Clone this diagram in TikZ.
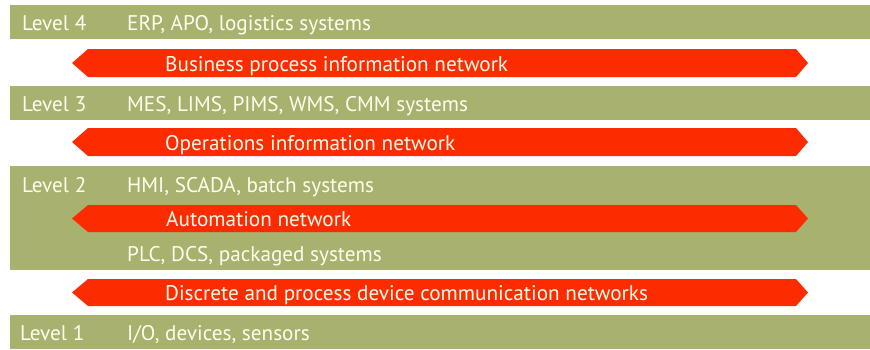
\documentclass[tikz,border=0pt]{standalone}
\usepackage{fontspec}
\setmainfont{PT Sans}
\definecolor{band}{RGB}{168,177,110}
\definecolor{net}{RGB}{252,44,0}
\definecolor{txt}{RGB}{255,253,238}
\tikzset{
  bandbox/.style={fill=band, draw=none},
  netarrow/.style={fill=net, draw=none},
  lbl/.style={text=txt, anchor=base west, inner sep=0pt, font=\fontsize{21.2}{23}\selectfont},
}
\begin{document}
\begin{tikzpicture}[x=1pt,y=-1pt]
\useasboundingbox (0,0) rectangle (870,349);
\fill[bandbox] (10,5) rectangle (870,39);
\fill[bandbox] (10,86) rectangle (870,120);
\fill[bandbox] (10,166) rectangle (870,270);
\fill[bandbox] (10,315) rectangle (870,349);
\fill[netarrow] (72,63) -- (88,49) -- (796,49) -- (808,63) -- (796,77) -- (88,77) -- cycle;
\fill[netarrow] (72,142) -- (88,128) -- (796,128) -- (808,142) -- (796,156) -- (88,156) -- cycle;
\fill[netarrow] (72,218.5) -- (88,205) -- (796,205) -- (808,218.5) -- (796,232) -- (88,232) -- cycle;
\fill[netarrow] (72,292.5) -- (88,279) -- (796,279) -- (808,292.5) -- (796,306) -- (88,306) -- cycle;
\node[lbl] (l4) at (22,30) {Level 4};
\node[lbl] (s4) at (127,30) {ERP, APO, logistics systems};
\node[lbl] (n1) at (165,71) {Business process information network};
\node[lbl] (l3) at (22,111) {Level 3};
\node[lbl] (s3) at (127,111) {MES, LIMS, PIMS, WMS, CMM systems};
\node[lbl] (n2) at (165,150) {Operations information network};
\node[lbl] (l2) at (22,192) {Level 2};
\node[lbl] (s2a) at (127,192) {HMI, SCADA, batch systems};
\node[lbl] (n3) at (166,226.5) {Automation network};
\node[lbl] (s2b) at (127,261) {PLC, DCS, packaged systems};
\node[lbl] (n4) at (165,300.5) {Discrete and process device communication networks};
\node[lbl] (l1) at (20,340) {Level 1};
\node[lbl] (s1) at (127,340) {I/O, devices, sensors};
\end{tikzpicture}
\end{document}
